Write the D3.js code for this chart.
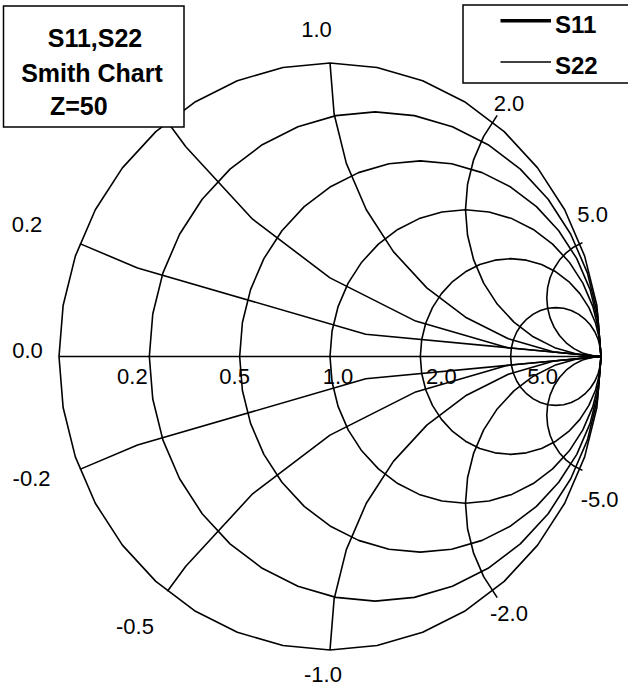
<!DOCTYPE html>
<html>
<head>
<meta charset="utf-8">
<script src="https://cdn.jsdelivr.net/npm/d3@7"></script>
<style>
  html, body { margin: 0; padding: 0; background: #fff; }
  svg { display: block; font-family: "Liberation Sans", Arial, sans-serif; }
</style>
</head>
<body>
<svg id="chart" width="628" height="689"></svg>
<script>
// Smith chart grid values (normalised to Z = 50 ohm)
const resistances = [0, 0.2, 0.5, 1, 2, 5];
const reactances = [0, 0.2, 0.5, 1, 2, 5, -0.2, -0.5, -1, -2, -5];

// Labels along the real axis (constant-resistance circles)
const resistanceLabelValues = [0.2, 0.5, 1, 2, 5];
const resistanceLabels = ["0.2", "0.5", "1.0", "2.0", "5.0"];

// Labels at the rim (constant-reactance arcs)
const reactanceLabelValues = [0, 0.2, 1, 2, 5, -0.2, -0.5, -1, -2, -5];
const reactanceLabels = ["0.0", "0.2", "1.0", "2.0", "5.0", "-0.2", "-0.5", "-1.0", "-2.0", "-5.0"];

// Series shown in the legend
const seriesNames = ["S11", "S22"];
const titleLines = ["S11,S22", "Smith Chart", "Z=50"];

// ---- layout / style ----
const svg = d3.select("#chart");
const xScale = d3.scaleLinear().domain([-1, 1]).range([59, 601]);
const yScale = d3.scaleLinear().domain([-1, 1]).range([650, 63]);
const line = d3.line().x(d => xScale(d[0])).y(d => yScale(d[1]));
const gridStyle = { stroke: "#000", width: 1.6 };
const seriesWidths = { S11: 3.5, S22: 1.3 };
const STEP = 10; // degrees between polyline vertices

// label placement offsets relative to the point they annotate (px)
const resistanceLabelDx = [-17, -5, 8, 21, 32];
const resistanceLabelDy = 27;
const reactanceLabelOffsets = [
  [-31.5, 1.5], [-52.8, -11.5], [-13.5, -26], [16.4, -10.7], [12.5, -21.5],
  [-48.3, 16.5], [-32.4, 42.7], [-7, 32], [16.4, 29.7], [19.5, 37.5]
];

const rad = d => d * Math.PI / 180;

// constant-resistance circle: centre r/(1+r), radius 1/(1+r)
function resistanceCircle(r) {
  const c = r / (1 + r), rho = 1 / (1 + r);
  return d3.range(0, 361, STEP).map(a => [c + rho * Math.cos(rad(a)), rho * Math.sin(rad(a))]);
}

// point where the reactance arc meets the unit circle
function rimPoint(x) {
  if (x === 0) return [-1, 0];
  const x2 = x * x;
  return [(x2 - 1) / (x2 + 1), 2 * x / (x2 + 1)];
}

// constant-reactance arc: centre (1, 1/x), radius 1/|x|, from (1,0) out to the rim
function reactanceArc(x) {
  if (x === 0) return [[-1, 0], [1, 0]];
  const cy = 1 / x, rho = 1 / Math.abs(x);
  const start = x > 0 ? 270 : 90, dir = x > 0 ? -1 : 1;
  const pts = [];
  for (let k = 0; k <= 36; k++) {
    const t = rad(start + dir * STEP * k);
    const p = [1 + rho * Math.cos(t), cy + rho * Math.sin(t)];
    const m = Math.hypot(p[0], p[1]);
    if (m <= 1 + 1e-9) { pts.push(p); continue; }
    pts.push(m <= 1.05 ? p : rimPoint(x));
    break;
  }
  return pts;
}

const grid = svg.append("g").attr("fill", "none")
  .attr("stroke", gridStyle.stroke).attr("stroke-width", gridStyle.width)
  .attr("stroke-linejoin", "round");

grid.selectAll("path.r").data(resistances).join("path")
  .attr("class", "r").attr("d", r => line(resistanceCircle(r)));

grid.selectAll("path.x").data(reactances).join("path")
  .attr("class", "x").attr("d", x => line(reactanceArc(x)));

// axis labels
const labels = svg.append("g").attr("font-size", 22).attr("fill", "#000").attr("text-anchor", "middle");

labels.selectAll("text.rl").data(resistanceLabelValues).join("text")
  .attr("class", "rl")
  .attr("x", (r, i) => xScale((r - 1) / (r + 1)) + resistanceLabelDx[i])
  .attr("y", yScale(0) + resistanceLabelDy)
  .text((r, i) => resistanceLabels[i]);

labels.selectAll("text.xl").data(reactanceLabelValues).join("text")
  .attr("class", "xl")
  .attr("x", (x, i) => xScale(rimPoint(x)[0]) + reactanceLabelOffsets[i][0])
  .attr("y", (x, i) => yScale(rimPoint(x)[1]) + reactanceLabelOffsets[i][1])
  .text((x, i) => reactanceLabels[i]);

// title box
const title = svg.append("g");
title.append("rect").attr("x", 3.5).attr("y", 6).attr("width", 180.5).attr("height", 121)
  .attr("fill", "#fff").attr("stroke", "#000").attr("stroke-width", 1.5);
const titlePos = [[95, 47, "middle"], [92, 82, "middle"], [50, 115, "start"]];
title.selectAll("text").data(titleLines).join("text")
  .attr("x", (d, i) => titlePos[i][0]).attr("y", (d, i) => titlePos[i][1])
  .attr("text-anchor", (d, i) => titlePos[i][2])
  .attr("font-size", 25).attr("font-weight", "bold").text(d => d);

// legend
const legend = svg.append("g");
legend.append("rect").attr("x", 463).attr("y", 5).attr("width", 200).attr("height", 78)
  .attr("fill", "#fff").attr("stroke", "#000").attr("stroke-width", 1.5);
const legendY = d3.scalePoint().domain(seriesNames).range([20.7, 62]);
legend.selectAll("line").data(seriesNames).join("line")
  .attr("x1", 500.5).attr("x2", 551).attr("y1", d => legendY(d)).attr("y2", d => legendY(d))
  .attr("stroke", "#000").attr("stroke-width", d => seriesWidths[d]);
legend.selectAll("text").data(seriesNames).join("text")
  .attr("x", 555).attr("y", d => legendY(d) + 12)
  .attr("font-size", 24).attr("font-weight", "bold").text(d => d);
</script>
</body>
</html>
